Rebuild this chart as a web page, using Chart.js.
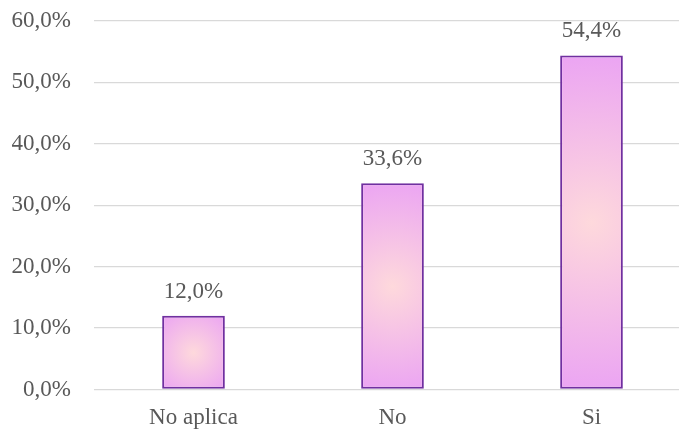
<!DOCTYPE html>
<html>
<head>
<meta charset="utf-8">
<script src="https://cdn.jsdelivr.net/npm/chart.js@4"></script>
<style>
  html, body { margin: 0; padding: 0; background: #fff; overflow: hidden; }
  #wrap { width: 679px; height: 429px; overflow: hidden; }
  #box { width: 700px; height: 429px; }
</style>
</head>
<body>
<div id="wrap"><div id="box"><canvas id="grafico"></canvas></div></div>
<script>
// Datos del gráfico
const categorias = ['No aplica', 'No', 'Si'];
const porcentajes = [12.0, 33.6, 54.4];
const ticksY = [0, 10, 20, 30, 40, 50, 60];

const fuente = 'Liberation Serif, Times New Roman, serif';
const gris = '#595959';

const fmt = v => v.toFixed(1).replace('.', ',') + '%';

// Relleno radial: rosa en el centro, violeta en los bordes
function relleno(c) {
  const chart = c.chart;
  if (!chart.chartArea || c.dataIndex === undefined) return '#eca6f2';
  const xs = chart.scales.x, ys = chart.scales.y;
  const cx = xs.getPixelForValue(c.dataIndex);
  const top = ys.getPixelForValue(c.raw);
  const base = ys.getPixelForValue(0);
  const w = (xs.width / categorias.length) * 0.315;
  const cy = (top + base) / 2;
  const r = Math.sqrt((w / 2) ** 2 + ((base - top) / 2) ** 2);
  const g = chart.ctx.createRadialGradient(cx, cy, 0, cx, cy, r);
  g.addColorStop(0, '#fed9dc');
  g.addColorStop(1, '#eba4f3');
  return g;
}

// Etiquetas encima de las barras
const etiquetas = {
  id: 'etiquetas',
  afterDatasetsDraw(chart) {
    const ctx = chart.ctx;
    const meta = chart.getDatasetMeta(0);
    ctx.save();
    ctx.font = '23px ' + fuente;
    ctx.fillStyle = gris;
    ctx.textAlign = 'center';
    ctx.textBaseline = 'alphabetic';
    meta.data.forEach((bar, i) => {
      ctx.fillText(fmt(porcentajes[i]), bar.x, bar.y - 18);
    });
    ctx.restore();
  }
};

new Chart(document.getElementById('grafico'), {
  type: 'bar',
  data: {
    labels: categorias,
    datasets: [{
      data: porcentajes,
      backgroundColor: relleno,
      borderColor: '#7030a0',
      borderWidth: 2,
      borderSkipped: false,
      categoryPercentage: 1,
      barPercentage: 0.315
    }]
  },
  options: {
    responsive: true,
    maintainAspectRatio: false,
    animation: false,
    layout: { padding: { left: 12, right: 9, top: 21, bottom: 0 } },
    plugins: { legend: { display: false }, tooltip: { enabled: false } },
    scales: {
      x: {
        afterFit: s => { s.height = 39.5; },
        grid: { display: false, drawTicks: false },
        border: { display: false },
        ticks: { color: gris, font: { family: fuente, size: 23 }, padding: 15 }
      },
      y: {
        min: 0,
        max: 60,
        afterFit: s => { s.width = 82; s.paddingTop = 0; s.paddingBottom = 0; },
        afterBuildTicks: s => { s.ticks = ticksY.map(v => ({ value: v })); },
        grid: { color: '#d9d9d9', lineWidth: 1.3, drawTicks: false },
        border: { display: false },
        ticks: { color: gris, font: { family: fuente, size: 23 }, padding: 23, callback: v => fmt(v) }
      }
    }
  },
  plugins: [etiquetas]
});
</script>
</body>
</html>
